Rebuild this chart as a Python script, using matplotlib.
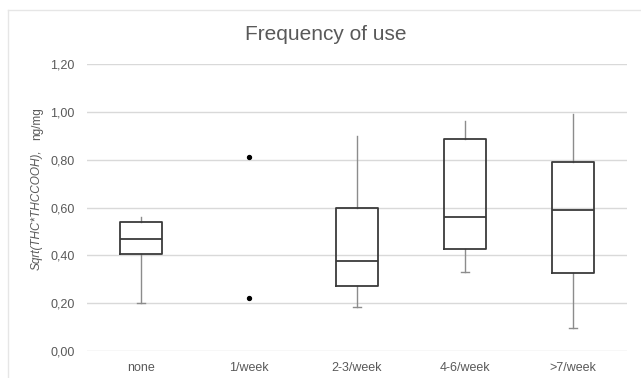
import matplotlib
matplotlib.use("Agg")
import matplotlib.pyplot as plt
from matplotlib.lines import Line2D

categories = ["none", "1/week", "2-3/week", "4-6/week", ">7/week"]
whis_lo = [0.20, None, 0.185, 0.33, 0.095]
q1 = [0.405, None, 0.27, 0.425, 0.325]
med = [0.47, None, 0.375, 0.56, 0.59]
q3 = [0.54, None, 0.60, 0.885, 0.79]
whis_hi = [0.56, None, 0.90, 0.96, 0.99]
points_cat = [1, 1]
points_val = [0.81, 0.22]
yticks = [0.0, 0.2, 0.4, 0.6, 0.8, 1.0, 1.2]
ytick_labels = ["0,00", "0,20", "0,40", "0,60", "0,80", "1,00", "1,20"]

plt.rcParams['font.family'] = ['Liberation Sans', 'DejaVu Sans']
grey_txt = "#595959"

fig = plt.figure(figsize=(6.41, 3.78), dpi=100)
ax = fig.add_axes([87/641, (378-351)/378, 540/641, (351-64)/378])

stats = []
positions = []
for i in range(len(categories)):
    if q1[i] is None:
        continue
    stats.append(dict(med=med[i], q1=q1[i], q3=q3[i], whislo=whis_lo[i], whishi=whis_hi[i], fliers=[]))
    positions.append(i)

bp = ax.bxp(stats, positions=positions, widths=0.39, showfliers=False, patch_artist=False,
            boxprops=dict(color="#3a3a3a", linewidth=1.3),
            medianprops=dict(color="#3a3a3a", linewidth=1.3),
            whiskerprops=dict(color="#8c8c8c", linewidth=1.0),
            capprops=dict(color="#8c8c8c", linewidth=1.0),
            capwidths=0.08)
for k, cap in enumerate(bp['caps']):
    if k % 2 == 1:
        cap.set_visible(False)
for w in bp['whiskers']:
    w.set_zorder(1)

ax.scatter(points_cat, points_val, s=8, color="black", zorder=3)

ax.set_xlim(-0.5, len(categories) - 0.5)
ax.set_ylim(0, 1.2)
ax.set_yticks(yticks)
ax.set_yticklabels(ytick_labels)
ax.set_xticks(range(len(categories)))
ax.set_xticklabels(categories)
ax.tick_params(axis='both', length=0, labelsize=9, colors=grey_txt)
ax.tick_params(axis='y', pad=9)
ax.tick_params(axis='x', pad=8)
ax.grid(axis='y', color="#d9d9d9", linewidth=1.0)
ax.set_axisbelow(True)
for s in ax.spines.values():
    s.set_visible(False)

fig.text(326/641, 1 - 35/378, "Frequency of use", ha='center', va='center',
         fontsize=15, color=grey_txt)
fig.text(37/641, 1 - 270/378, "Sqrt(THC*THCCOOH),", rotation=90, ha='center', va='bottom',
         fontsize=8.5, color=grey_txt, style='italic')
fig.text(37/641, 1 - 107/378, "ng/mg", rotation=90, ha='center', va='top',
         fontsize=8.5, color=grey_txt)

# chart frame (top and left)
fig.add_artist(Line2D([8/641, 1], [1 - 10/378, 1 - 10/378], transform=fig.transFigure,
                      color="#e6e6e6", linewidth=1.0))
fig.add_artist(Line2D([8/641, 8/641], [0, 1 - 10/378], transform=fig.transFigure,
                      color="#e6e6e6", linewidth=1.0))

fig.savefig("out.png", dpi=100)
